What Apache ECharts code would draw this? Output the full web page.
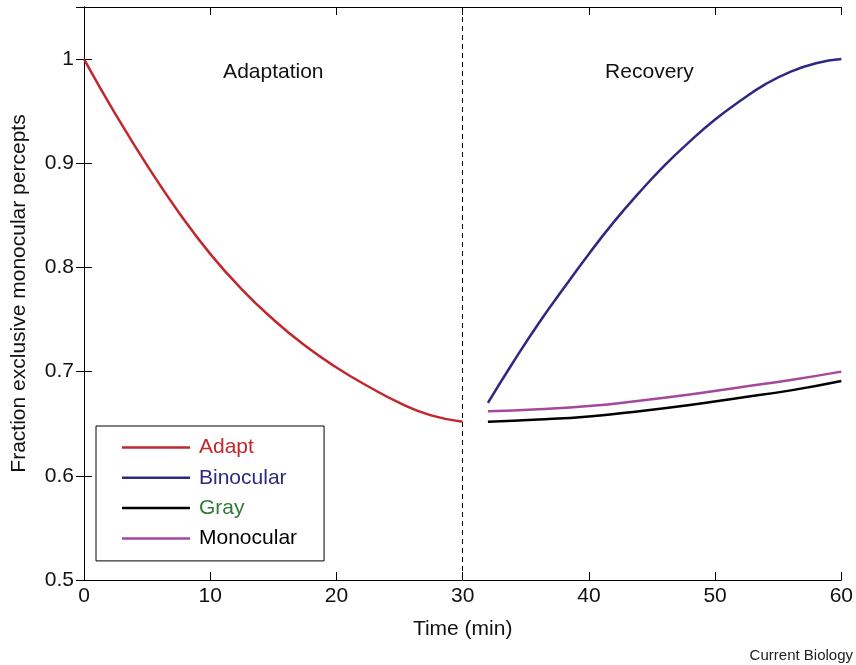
<!DOCTYPE html>
<html>
<head>
<meta charset="utf-8">
<script src="https://cdn.jsdelivr.net/npm/echarts@6/dist/echarts.min.js"></script>
<style>
html,body{margin:0;padding:0;background:#fff;}
#chart{width:856px;height:665px;}
</style>
</head>
<body>
<div id="chart"></div>
<script>
// Data
const adaptT = [0, 2.5, 5, 7.5, 10, 12.5, 15, 17.5, 20, 22.5, 25, 27.5, 30];
const adaptV = [1.0, 0.947, 0.898, 0.853, 0.813, 0.779, 0.750, 0.725, 0.704, 0.686, 0.670, 0.658, 0.652];
const recT = [32, 34, 36, 38, 40, 42, 44, 46, 48, 50, 52, 54, 56, 58, 60];
const binocularV = [0.670, 0.709, 0.746, 0.780, 0.813, 0.844, 0.872, 0.898, 0.921, 0.942, 0.960, 0.976, 0.988, 0.996, 1.0];
const monoT = [32, 36, 40, 44, 48, 52, 56, 60];
const monocularV = [0.662, 0.664, 0.667, 0.672, 0.678, 0.685, 0.692, 0.700];
const grayV = [0.652, 0.654, 0.657, 0.662, 0.668, 0.675, 0.682, 0.691];
const seriesNames = ['Adapt', 'Binocular', 'Gray', 'Monocular'];
const xTicks = [0, 10, 20, 30, 40, 50, 60];
const yTicks = [0.5, 0.6, 0.7, 0.8, 0.9, 1];
const phaseLabels = [{text: 'Adaptation', t: 15, v: 0.9875}, {text: 'Recovery', t: 44.8, v: 0.9875}];
const boundaryT = 30;

const FONT = 'Liberation Sans, Arial, Helvetica, sans-serif';
const FS = 21;
const colors = {Adapt: '#c1272d', Binocular: '#2e2883', Gray: '#000000', Monocular: '#a5489d'};
const legendTextColors = {Adapt: '#c1272d', Binocular: '#2e2883', Gray: '#2f7a34', Monocular: '#000000'};

const zip = (a, b) => a.map((x, i) => [x, b[i]]);

const chart = echarts.init(document.getElementById('chart'), null, {renderer: 'canvas'});

const tickStyle = {inside: true, length: 8, lineStyle: {color: '#000', width: 1}};
const axisLineStyle = {show: true, lineStyle: {color: '#000', width: 1}};

const lineSeries = (name, data) => ({
  name, type: 'line', data, smooth: 0.5, symbol: 'none',
  lineStyle: {color: colors[name], width: 2.5}, itemStyle: {color: colors[name]}
});

const adaptSeries = lineSeries('Adapt', zip(adaptT, adaptV));
adaptSeries.markLine = {silent: true, symbol: ['none', 'none'], label: {show: false},
  lineStyle: {color: '#000', type: [5, 4], width: 1}, data: [{xAxis: boundaryT}]};

const option = {
  animation: false,
  backgroundColor: '#fff',
  grid: {left: 84, right: 13, top: 7, bottom: 85, containLabel: false},
  xAxis: [{
    type: 'value', min: 0, max: 60, interval: 10, position: 'bottom',
    name: 'Time (min)', nameLocation: 'middle', nameGap: 39,
    nameTextStyle: {fontFamily: FONT, fontSize: FS, color: '#111'},
    axisLine: axisLineStyle, axisTick: tickStyle, splitLine: {show: false},
    axisLabel: {fontFamily: FONT, fontSize: FS, color: '#111', margin: 6}
  }, {
    type: 'value', min: 0, max: 60, interval: 10, position: 'top',
    axisLine: axisLineStyle, axisTick: tickStyle, splitLine: {show: false},
    axisLabel: {show: false}
  }],
  yAxis: [{
    type: 'value', min: 0.5, max: 1.05, interval: 0.1, position: 'left',
    name: 'Fraction exclusive monocular percepts', nameLocation: 'middle', nameGap: 54,
    nameTextStyle: {fontFamily: FONT, fontSize: FS, color: '#111'},
    axisLine: axisLineStyle, axisTick: tickStyle, splitLine: {show: false},
    axisLabel: {
      fontFamily: FONT, fontSize: FS, color: '#111', margin: 10, showMaxLabel: false,
      formatter: v => {
        const r = Math.round(v * 10) / 10;
        if (Math.abs(r - v) > 1e-6) return '';
        return String(r);
      }
    }
  }, {
    type: 'value', min: 0.5, max: 1.05, interval: 0.1, position: 'right',
    axisLine: axisLineStyle, axisTick: tickStyle, splitLine: {show: false},
    axisLabel: {show: false}
  }],
  legend: {
    left: 96, top: 426,
    orient: 'vertical',
    padding: [11, 27, 12, 26],
    itemGap: 9.3,
    itemWidth: 68, itemHeight: 20,
    borderColor: '#000', borderWidth: 1,
    icon: 'path://M0,9 L68,9 L68,11.5 L0,11.5 Z',
    textStyle: {fontFamily: FONT, fontSize: FS, padding: [0, 0, 0, 4]},
    data: seriesNames.map(n => ({name: n, textStyle: {color: legendTextColors[n]}}))
  },
  series: [
    adaptSeries,
    lineSeries('Binocular', zip(recT, binocularV)),
    lineSeries('Gray', zip(monoT, grayV)),
    lineSeries('Monocular', zip(monoT, monocularV))
  ]
};
chart.setOption(option);

const graphics = phaseLabels.map(p => {
  const pt = chart.convertToPixel({xAxisIndex: 0, yAxisIndex: 0}, [p.t, p.v]);
  return {type: 'text', x: pt[0], y: pt[1],
    style: {text: p.text, fontFamily: FONT, fontSize: FS, fill: '#111', textAlign: 'center', textVerticalAlign: 'middle'}};
});
graphics.push({type: 'text', right: 3, bottom: 2,
  style: {text: 'Current Biology', fontFamily: FONT, fontSize: 15, fill: '#222'}});
chart.setOption({graphic: graphics});
</script>
</body>
</html>
